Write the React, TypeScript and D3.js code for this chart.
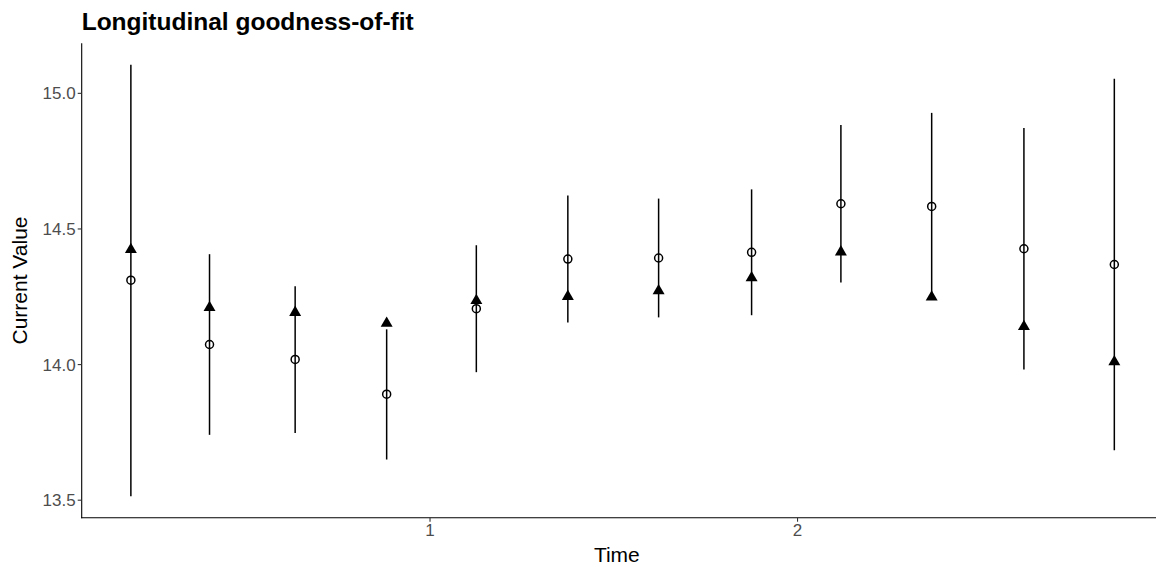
import React from "react";
import * as d3 from "d3";

const times = [0.186, 0.4, 0.633, 0.882, 1.126, 1.375, 1.622, 1.875, 2.118, 2.365, 2.616, 2.862];
const observed = [14.311, 14.074, 14.019, 13.891, 14.206, 14.389, 14.393, 14.414, 14.593, 14.583, 14.427, 14.369];
const lower = [13.515, 13.741, 13.748, 13.65, 13.972, 14.155, 14.174, 14.182, 14.303, 14.24, 13.982, 13.684];
const upper = [15.105, 14.407, 14.289, 14.13, 14.44, 14.623, 14.612, 14.646, 14.883, 14.928, 14.872, 15.054];
const predicted = [14.424, 14.21, 14.192, 14.152, 14.236, 14.251, 14.272, 14.32, 14.415, 14.249, 14.14, 14.01];
const xTicks = [1, 2];
const yTicks = [13.5, 14.0, 14.5, 15.0];

const W = 1156;
const H = 567;
const left = 81.7;
const right = 1163.5;
const top = 43.3;
const bottom = 517.7;

function expand(lo: number, hi: number): [number, number] {
  const d = (hi - lo) * 0.05;
  return [lo - d, hi + d];
}

export default function App() {
  const x = d3.scaleLinear().domain(expand(d3.min(times)!, d3.max(times)!)).range([left, right]);
  const yAll = [...lower, ...upper, ...observed, ...predicted];
  const y = d3.scaleLinear().domain(expand(d3.min(yAll)!, d3.max(yAll)!)).range([bottom, top]);
  const tri = d3.symbol().type(d3.symbolTriangle).size(62)();
  const font = "Liberation Sans, Arial, sans-serif";
  const gray = "#4d4d4d";

  return (
    <svg width={W} height={H} style={{ position: "absolute", left: 0, top: 0, display: "block", background: "#fff" }} fontFamily={font}>
      <rect width={W} height={H} fill="#fff" />
      <text x={left} y={30} fontSize={24.5} fontWeight="bold" fill="#000">Longitudinal goodness-of-fit</text>
      {times.map((t, i) => (
        <line key={"e" + i} x1={x(t)} x2={x(t)} y1={y(lower[i])} y2={y(upper[i])} stroke="#000" strokeWidth={1.5} />
      ))}
      {times.map((t, i) => (
        <circle key={"c" + i} cx={x(t)} cy={y(observed[i])} r={4} fill="none" stroke="#000" strokeWidth={1.5} />
      ))}
      {times.map((t, i) => (
        <path key={"p" + i} d={tri!} transform={`translate(${x(t)},${y(predicted[i])})`} fill="#000" />
      ))}
      <line x1={left} x2={left} y1={top} y2={bottom + 0.5} stroke="#000" strokeWidth={1.1} />
      <line x1={left - 0.5} x2={right} y1={bottom} y2={bottom} stroke="#000" strokeWidth={1.1} />
      {yTicks.map((v) => (
        <g key={"y" + v}>
          <line x1={left - 4} x2={left} y1={y(v)} y2={y(v)} stroke="#333" strokeWidth={1.1} />
          <text x={left - 6} y={y(v)} dy="0.36em" textAnchor="end" fontSize={17} fill={gray}>{v.toFixed(1)}</text>
        </g>
      ))}
      {xTicks.map((v) => (
        <g key={"x" + v}>
          <line x1={x(v)} x2={x(v)} y1={bottom} y2={bottom + 4} stroke="#333" strokeWidth={1.1} />
          <text x={x(v)} y={bottom + 6} dy="0.75em" textAnchor="middle" fontSize={17} fill={gray}>{v}</text>
        </g>
      ))}
      <text x={(left + 1152) / 2} y={562} textAnchor="middle" fontSize={21} fill="#000">Time</text>
      <text transform={`translate(27,${(top + bottom) / 2}) rotate(-90)`} textAnchor="middle" fontSize={21} fill="#000">Current Value</text>
    </svg>
  );
}
